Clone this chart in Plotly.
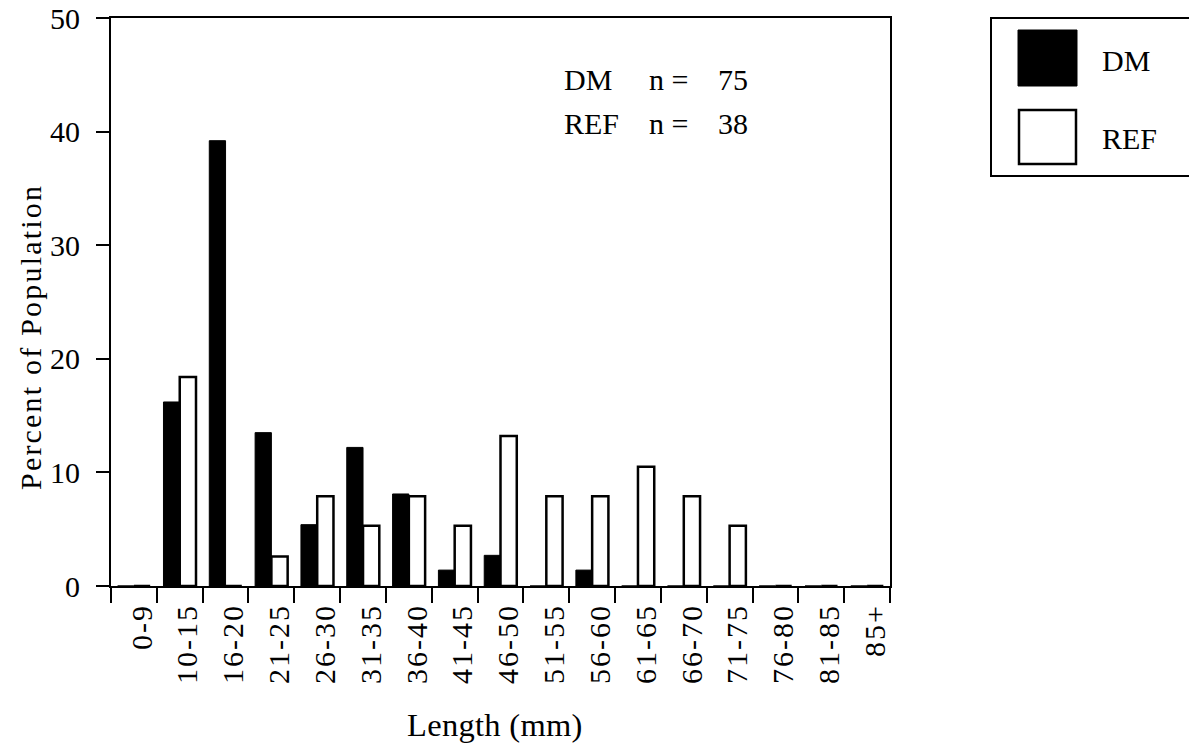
import plotly.graph_objects as go

# Length classes (mm)
categories = ["0-9", "10-15", "16-20", "21-25", "26-30", "31-35", "36-40", "41-45",
              "46-50", "51-55", "56-60", "61-65", "66-70", "71-75", "76-80", "81-85", "85+"]

# Percent of population in each length class
dm_pct = [0, 16.2, 39.2, 13.5, 5.4, 12.2, 8.1, 1.4, 2.7, 0, 1.4, 0, 0, 0, 0, 0, 0]
ref_pct = [0, 18.4, 0, 2.6, 7.9, 5.3, 7.9, 5.3, 13.2, 7.9, 7.9, 10.5, 7.9, 5.3, 0, 0, 0]

series_names = ["DM", "REF"]
sample_sizes = [75, 38]

y_ticks = [0, 10, 20, 30, 40, 50]

W, H = 1189, 743
ML, MR, MT, MB = 111, 299, 18, 157
PW, PH = W - ML - MR, H - MT - MB

FONT = "Liberation Serif"
FS = 30


def px_x(px):
    return (px - ML) / PW


def px_y(py):
    return (H - MB - py) / PH


def spaced(text, px):
    return f'<span style="letter-spacing:{px}px">{text}</span>'


fig = go.Figure()
fig.add_trace(go.Bar(x=categories, y=dm_pct, name=series_names[0],
                     marker=dict(color="black", line=dict(color="black", width=1))))
fig.add_trace(go.Bar(x=categories, y=ref_pct, name=series_names[1],
                     marker=dict(color="white", line=dict(color="black", width=2.5))))

fig.update_layout(
    width=W, height=H,
    margin=dict(l=ML, r=MR, t=MT, b=MB, pad=0, autoexpand=False),
    paper_bgcolor="white", plot_bgcolor="white",
    barmode="group", bargap=0.29, bargroupgap=0,
    showlegend=False,
    font=dict(family=FONT, size=FS, color="black"),
)

fig.update_xaxes(
    type="category", range=[-0.5, len(categories) - 0.5], automargin=False,
    tickmode="array", tickvals=categories, ticktext=[spaced(c, 2) for c in categories],
    tickson="boundaries", ticks="outside", ticklen=15, tickwidth=1.5, tickcolor="black",
    tickangle=-90, tickfont=dict(family=FONT, size=FS),
    ticklabelstandoff=4, ticklabelshift=8,
    showline=True, linecolor="black", linewidth=2, mirror=True,
    showgrid=False, zeroline=False,
)
fig.update_yaxes(
    range=[0, 50], tickvals=y_ticks, ticks="outside", ticklen=13, tickwidth=1.5,
    automargin=False,
    tickcolor="black", tickfont=dict(family=FONT, size=FS), ticklabelstandoff=10,
    showline=True, linecolor="black", linewidth=2, mirror=True,
    showgrid=False, zeroline=False,
)

# Axis titles
fig.add_annotation(text=spaced("Percent of Population", 2.2), textangle=-90, showarrow=False,
                   xref="paper", yref="paper", x=px_x(30), y=px_y(337),
                   xanchor="center", yanchor="middle",
                   font=dict(family=FONT, size=FS))
fig.add_annotation(text=spaced("Length (mm)", 0.3), showarrow=False,
                   xref="paper", yref="paper", x=px_x(495), y=px_y(725),
                   xanchor="center", yanchor="middle",
                   font=dict(family=FONT, size=32.5))

# Sample size block
rows_y = [80, 123]
for name, n, yy in zip(series_names, sample_sizes, rows_y):
    for txt, xx in [(name, 562), ("n =", 647), (str(n), 716)]:
        fig.add_annotation(text=txt, showarrow=False, xref="paper", yref="paper",
                           x=px_x(xx), y=px_y(yy), xanchor="left", yanchor="middle",
                           font=dict(family=FONT, size=FS))

# Legend box drawn with shapes
fig.add_shape(type="rect", xref="paper", yref="paper",
              x0=px_x(991), x1=px_x(1200), y0=px_y(176), y1=px_y(18),
              line=dict(color="black", width=2), fillcolor="white")
fig.add_shape(type="rect", xref="paper", yref="paper",
              x0=px_x(1018), x1=px_x(1077), y0=px_y(86), y1=px_y(30),
              line=dict(color="black", width=1), fillcolor="black")
fig.add_shape(type="rect", xref="paper", yref="paper",
              x0=px_x(1019), x1=px_x(1076), y0=px_y(164), y1=px_y(110),
              line=dict(color="black", width=2.5), fillcolor="white")
for name, yy in zip(series_names, [61, 138]):
    fig.add_annotation(text=name, showarrow=False, xref="paper", yref="paper",
                       x=px_x(1100), y=px_y(yy), xanchor="left", yanchor="middle",
                       font=dict(family=FONT, size=FS))

fig.write_html("out.html")
